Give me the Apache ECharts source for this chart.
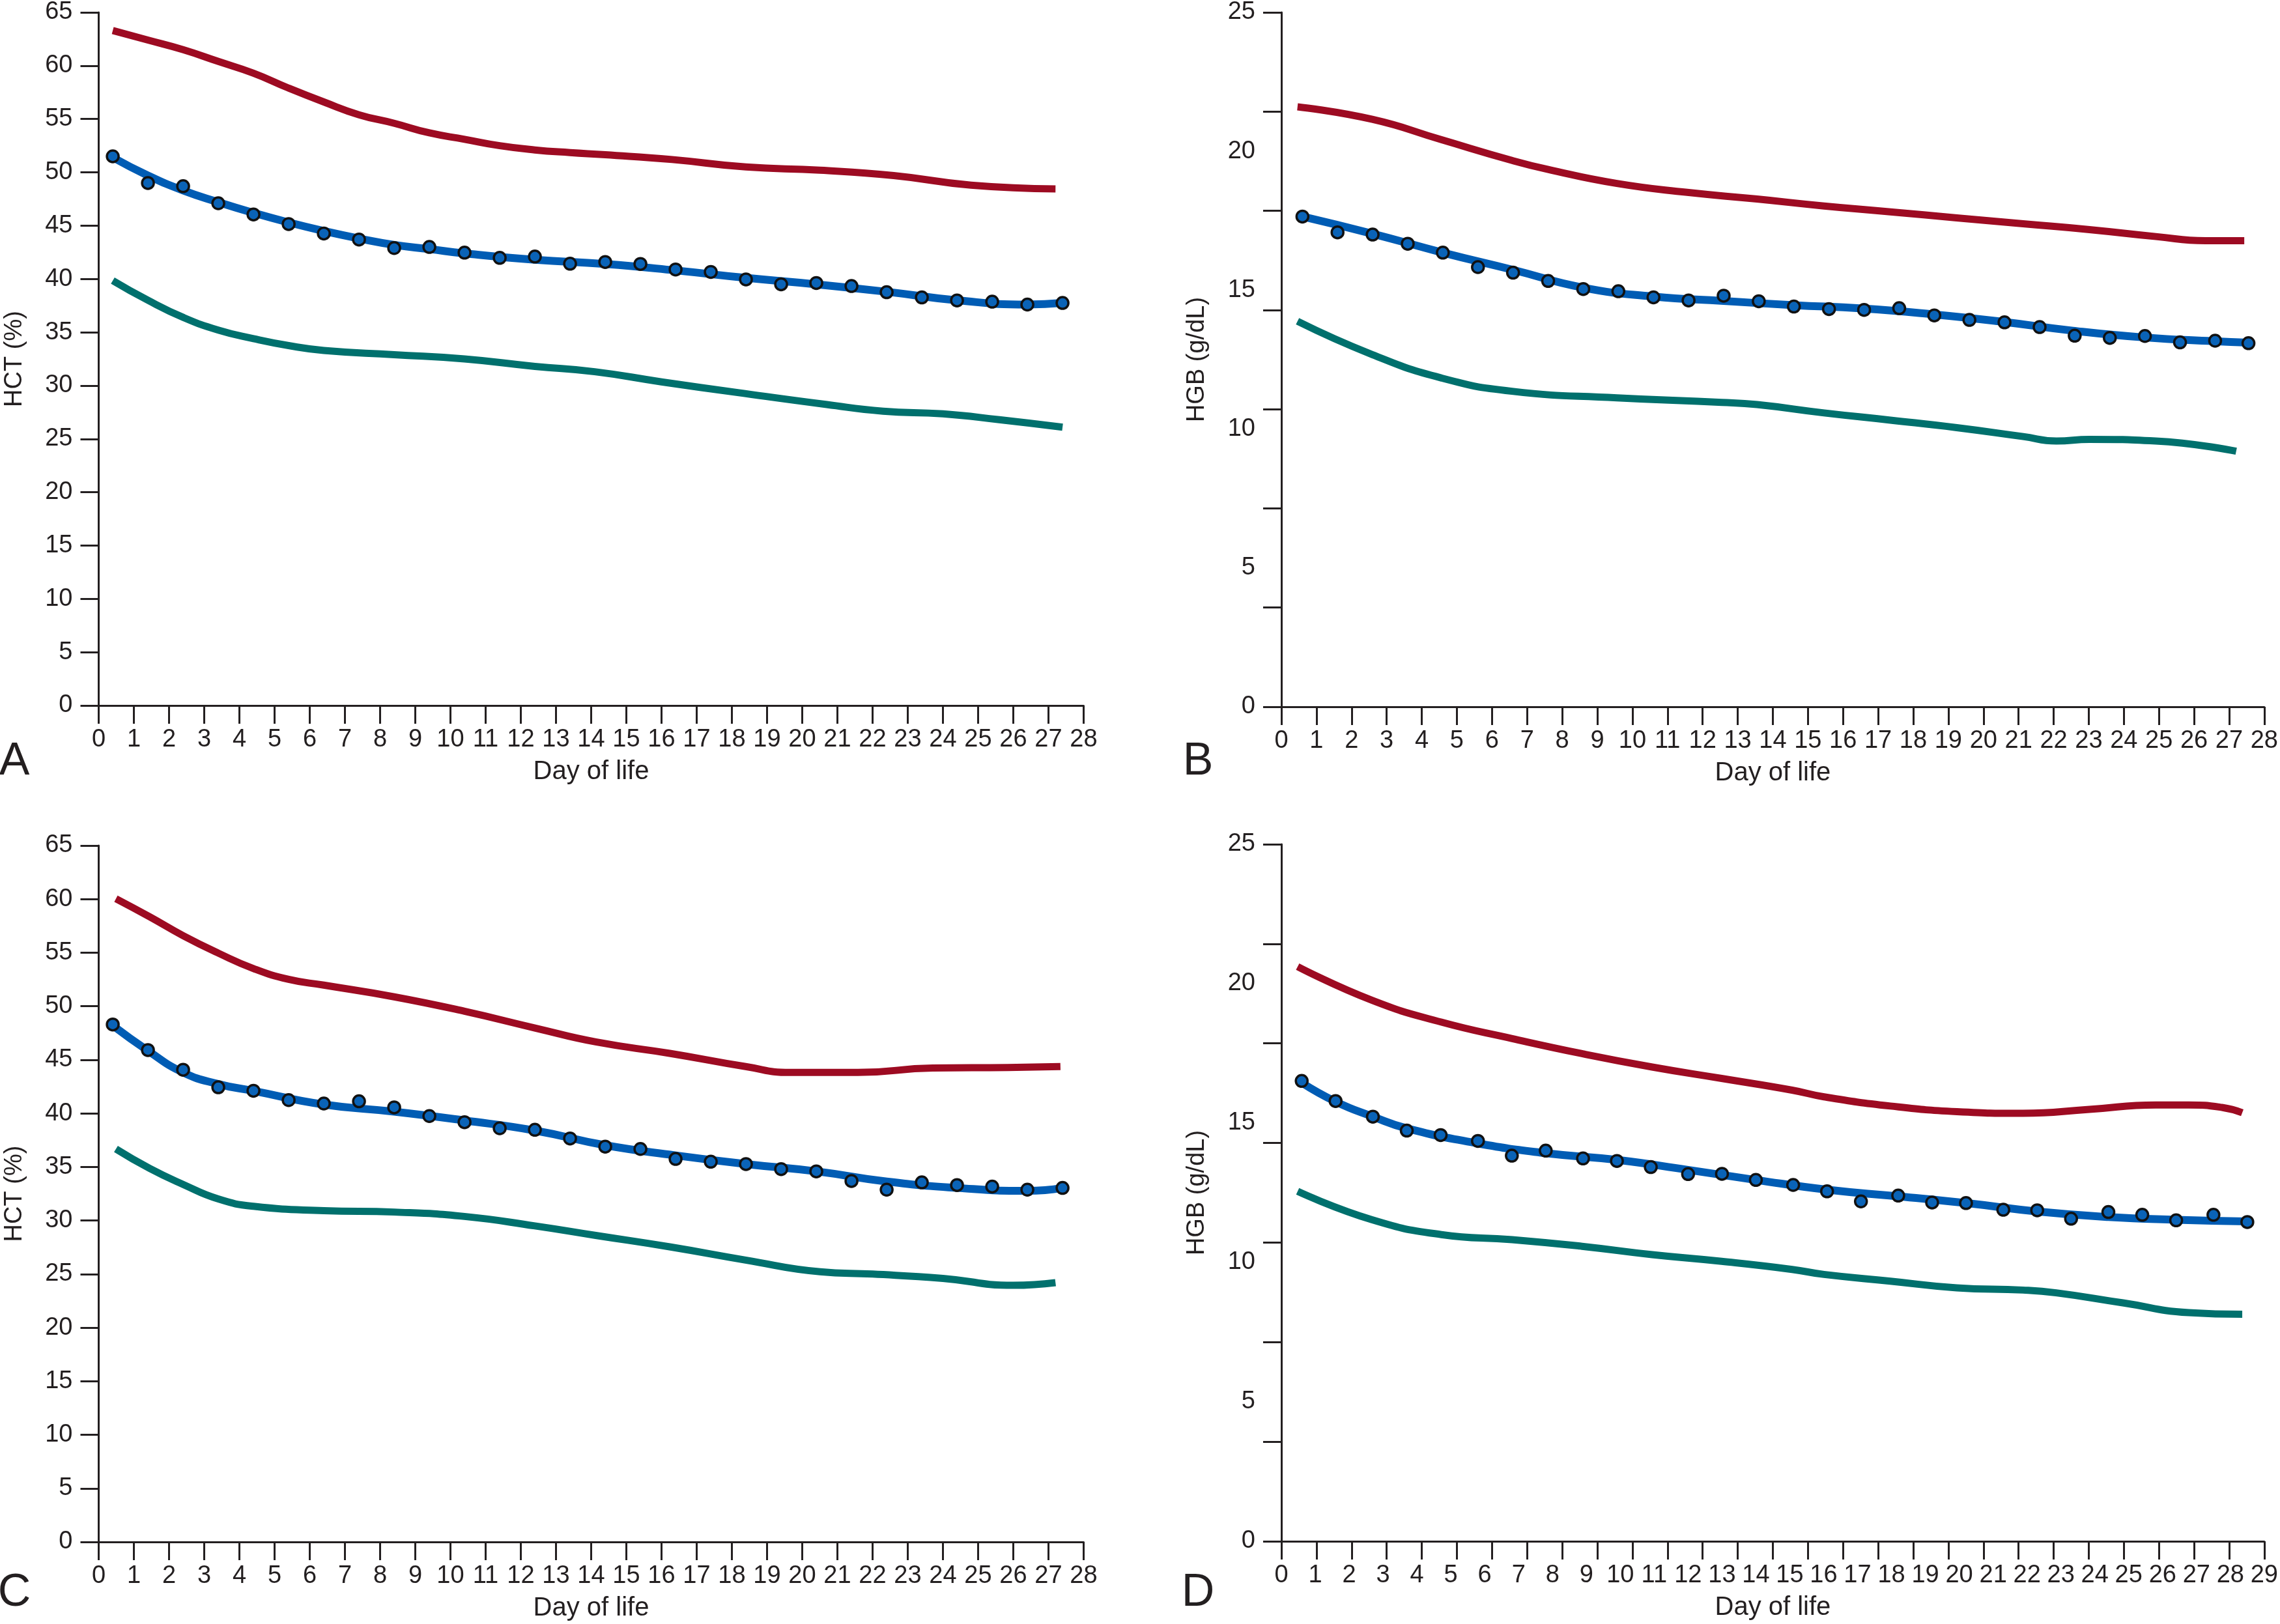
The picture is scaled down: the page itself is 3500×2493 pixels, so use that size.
<!DOCTYPE html>
<html><head><meta charset="utf-8">
<script src="https://cdn.jsdelivr.net/npm/echarts@6/dist/echarts.min.js"></script>
<style>html,body{margin:0;padding:0;background:#fff}#c{width:3500px;height:2493px}</style>
</head><body><div id="c"></div>
<script>
// ---------- text ----------
const panelLetters = ['A', 'B', 'C', 'D'];
const yTitles = ['HCT (%)', 'HGB (g/dL)', 'HCT (%)', 'HGB (g/dL)'];
const xTitle = 'Day of life';

// ---------- Panel A (HCT) ----------
const aRedX  = [0.4, 1.4, 2.4, 3.4, 4.4, 5.4, 6.4, 7.4, 8.4, 9.4, 10.4, 11.4, 12.4, 13.4, 14.4, 16.3, 18.4, 20.5, 22.6, 24.8, 27.2];
const aRedY  = [63.3, 62.4, 61.5, 60.4, 59.3, 57.9, 56.6, 55.4, 54.6, 53.7, 53.1, 52.5, 52.1, 51.85, 51.65, 51.2, 50.5, 50.2, 49.7, 48.8, 48.45];
const aFitX  = [0.4, 1.4, 2.4, 3.4, 4.4, 5.4, 6.4, 7.4, 8.4, 9.4, 10.4, 12.4, 14.4, 16.4, 18.4, 20.4, 22.4, 24.4, 26.4, 27.4];
const aFitY  = [51.4, 49.7, 48.3, 47.2, 46.2, 45.3, 44.5, 43.8, 43.2, 42.8, 42.4, 41.8, 41.4, 40.8, 40.1, 39.5, 38.8, 38.0, 37.6, 37.75];
const aLowX  = [0.4, 1.4, 2.4, 3.4, 4.4, 5.4, 6.4, 8.4, 10.4, 12.4, 14.1, 16.0, 18.2, 20.7, 22.3, 24.0, 25.6, 27.4];
const aLowY  = [39.85, 38.0, 36.4, 35.2, 34.4, 33.75, 33.3, 32.9, 32.5, 31.8, 31.3, 30.35, 29.33, 28.22, 27.6, 27.35, 26.8, 26.1];
const aDotX  = [0.4, 1.4, 2.4, 3.4, 4.4, 5.4, 6.4, 7.4, 8.4, 9.4, 10.4, 11.4, 12.4, 13.4, 14.4, 15.4, 16.4, 17.4, 18.4, 19.4, 20.4, 21.4, 22.4, 23.4, 24.4, 25.4, 26.4, 27.4];
const aDotY  = [51.5, 49.0, 48.7, 47.1, 46.05, 45.15, 44.26, 43.7, 42.9, 43.0, 42.47, 41.98, 42.1, 41.43, 41.59, 41.41, 40.89, 40.66, 39.96, 39.5, 39.62, 39.34, 38.76, 38.27, 37.99, 37.87, 37.6, 37.75];

// ---------- Panel B (HGB) ----------
const bRedX  = [0.46, 2.59, 4.55, 6.57, 7.58, 9.56, 11.56, 13.55, 15.46, 17.35, 19.24, 21.13, 23.02, 24.91, 26.33, 27.43];
const bRedY  = [21.6, 21.15, 20.42, 19.67, 19.35, 18.84, 18.52, 18.28, 18.03, 17.82, 17.6, 17.39, 17.18, 16.93, 16.78, 16.78];
const bFitX  = [0.6, 2.6, 4.6, 6.6, 8.6, 10.6, 12.6, 14.6, 16.55, 18.55, 20.55, 22.55, 24.55, 26.55, 27.55];
const bFitY  = [17.65, 17.03, 16.35, 15.73, 15.09, 14.77, 14.61, 14.46, 14.34, 14.13, 13.86, 13.54, 13.3, 13.16, 13.11];
const bLowX  = [0.46, 2.59, 4.55, 6.57, 9.56, 12.55, 13.55, 15.46, 17.35, 19.24, 21.13, 22.08, 23.02, 24.91, 27.2];
const bLowY  = [13.88, 12.68, 11.84, 11.36, 11.12, 10.96, 10.88, 10.58, 10.32, 10.05, 9.73, 9.57, 9.63, 9.57, 9.2];
const bDotX  = [0.6, 1.6, 2.6, 3.6, 4.6, 5.6, 6.6, 7.6, 8.6, 9.6, 10.6, 11.6, 12.6, 13.6, 14.6, 15.6, 16.6, 17.6, 18.6, 19.6, 20.6, 21.6, 22.6, 23.6, 24.6, 25.6, 26.6, 27.55];
const bDotY  = [17.65, 17.08, 17.0, 16.67, 16.35, 15.83, 15.63, 15.33, 15.04, 14.96, 14.74, 14.63, 14.8, 14.6, 14.41, 14.32, 14.29, 14.35, 14.09, 13.93, 13.84, 13.67, 13.36, 13.28, 13.35, 13.12, 13.18, 13.09];

// ---------- Panel C (HCT) ----------
const cRedX  = [0.49, 1.45, 2.4, 3.4, 4.4, 5.4, 6.4, 8.4, 10.4, 12.4, 14.13, 16.26, 18.39, 19.66, 21.58, 23.71, 25.84, 27.34];
const cRedY  = [60.04, 58.35, 56.59, 54.96, 53.52, 52.51, 51.97, 50.88, 49.53, 47.97, 46.67, 45.59, 44.37, 43.82, 43.82, 44.23, 44.28, 44.37];
const cFitX  = [0.4, 1.4, 2.4, 3.4, 4.4, 6.4, 8.4, 10.4, 12.4, 14.4, 16.4, 18.4, 20.4, 22.4, 24.4, 26.4, 27.4];
const cFitY  = [48.2, 45.85, 43.82, 42.74, 42.1, 40.83, 40.16, 39.34, 38.4, 37.03, 36.08, 35.27, 34.59, 33.64, 33.04, 32.77, 33.04];
const cLowX  = [0.49, 1.45, 2.4, 3.4, 4.4, 6.4, 8.4, 10.4, 12.4, 14.13, 16.26, 18.39, 20.51, 22.0, 24.0, 26.0, 27.2];
const cLowY  = [36.68, 34.86, 33.37, 32.01, 31.33, 30.92, 30.79, 30.38, 29.5, 28.61, 27.53, 26.31, 25.22, 25.0, 24.6, 23.95, 24.2];
const cDotX  = [0.4, 1.4, 2.4, 3.4, 4.4, 5.4, 6.4, 7.4, 8.4, 9.4, 10.4, 11.4, 12.4, 13.4, 14.4, 15.4, 16.4, 17.4, 18.4, 19.4, 20.4, 21.4, 22.4, 23.4, 24.4, 25.4, 26.4, 27.4];
const cDotY  = [48.3, 45.91, 44.07, 42.44, 42.11, 41.24, 40.92, 41.13, 40.56, 39.75, 39.18, 38.61, 38.47, 37.66, 36.9, 36.68, 35.75, 35.49, 35.27, 34.8, 34.59, 33.69, 32.88, 33.56, 33.31, 33.17, 32.88, 33.04];

// ---------- Panel D (HGB) ----------
const dRedX  = [0.48, 2.68, 4.72, 6.81, 8.87, 10.94, 12.99, 15.07, 16.01, 17.97, 19.93, 21.88, 23.84, 25.8, 26.77, 27.75, 28.35];
const dRedY  = [20.61, 19.4, 18.62, 18.03, 17.49, 17.01, 16.6, 16.18, 15.94, 15.61, 15.41, 15.35, 15.49, 15.65, 15.65, 15.56, 15.37];
const dFitX  = [0.6, 1.6, 2.7, 3.7, 5.8, 7.8, 9.9, 12.0, 14.0, 16.1, 18.2, 20.2, 22.3, 24.4, 26.4, 28.5];
const dFitY  = [16.45, 15.77, 15.23, 14.81, 14.27, 13.92, 13.68, 13.32, 12.96, 12.61, 12.37, 12.13, 11.83, 11.63, 11.53, 11.47];
const dLowX  = [0.48, 2.68, 4.72, 6.81, 8.87, 10.94, 12.99, 15.07, 16.01, 17.97, 19.93, 21.88, 22.86, 24.83, 26.77, 28.35];
const dLowY  = [12.55, 11.53, 11.0, 10.82, 10.58, 10.28, 10.04, 9.75, 9.57, 9.33, 9.09, 9.01, 8.91, 8.55, 8.2, 8.14];
const dDotX  = [0.6, 1.6, 2.7, 3.7, 4.7, 5.8, 6.8, 7.8, 8.9, 9.9, 10.9, 12.0, 13.0, 14.0, 15.1, 16.1, 17.1, 18.2, 19.2, 20.2, 21.3, 22.3, 23.3, 24.4, 25.4, 26.4, 27.5, 28.5];
const dDotY  = [16.51, 15.79, 15.23, 14.73, 14.57, 14.36, 13.83, 14.01, 13.73, 13.64, 13.42, 13.17, 13.18, 12.96, 12.78, 12.55, 12.19, 12.4, 12.15, 12.13, 11.89, 11.87, 11.57, 11.81, 11.71, 11.51, 11.71, 11.45];

// ---------- axis scales ----------
const hctMax = 65, hctStep = 5;
const hgbMax = 25, hgbLabelStep = 5, hgbTickCount = 7;   // HGB ticks: 7 equal divisions
const dayMaxABC = 28, dayMaxD = 29, dTickCount = 28;      // panel D: 30 labels, 28 tick divisions

// ---------- build ----------
const INK = '#231f20';
const RED = '#9d0b22', BLUE = '#005cb4', TEAL = '#00706d';
const FONT = '"Liberation Sans", Arial, Helvetica, sans-serif';
const zip = (xs, ys) => xs.map((x, i) => [x, ys[i]]);
const evenTicks = (max, n) => Array.from({length: n + 1}, (_, i) => max * i / n);

const panels = [
  {red: zip(aRedX, aRedY), fit: zip(aFitX, aFitY), low: zip(aLowX, aLowY), dots: zip(aDotX, aDotY)},
  {red: zip(bRedX, bRedY), fit: zip(bFitX, bFitY), low: zip(bLowX, bLowY), dots: zip(bDotX, bDotY)},
  {red: zip(cRedX, cRedY), fit: zip(cFitX, cFitY), low: zip(cLowX, cLowY), dots: zip(cDotX, cDotY)},
  {red: zip(dRedX, dRedY), fit: zip(dFitX, dFitY), low: zip(dLowX, dLowY), dots: zip(dDotX, dDotY)}
];

const grids = [
  {left: 151.5, top: 13,   width: 1512, height: 1070},
  {left: 1967,  top: 14,   width: 1512, height: 1071},
  {left: 151.5, top: 1298, width: 1512, height: 1069},
  {left: 1967,  top: 1296, width: 1512, height: 1070}
];

const axisLine = {show: true, onZero: false, lineStyle: {color: INK, width: 3}};
const tickStyle = {color: INK, width: 3};

const xAxes = grids.map((g, i) => {
  const isD = i === 3;
  const ax = {
    type: 'value', gridIndex: i, min: 0, max: isD ? dayMaxD : dayMaxABC, interval: 1,
    axisLine: axisLine,
    axisTick: {show: true, inside: false, length: 28, lineStyle: tickStyle},
    axisLabel: {show: true, fontSize: 38, fontFamily: FONT, color: INK, margin: 34, hideOverlap: false},
    splitLine: {show: false},
    name: xTitle, nameLocation: 'middle', nameGap: 82,
    nameTextStyle: {fontSize: 40, fontFamily: FONT, color: INK}
  };
  if (isD) ax.axisTick.customValues = evenTicks(dayMaxD, dTickCount);
  return ax;
});

const yAxes = grids.map((g, i) => {
  const isHgb = (i === 1 || i === 3);
  const ax = {
    type: 'value', gridIndex: i, min: 0, max: isHgb ? hgbMax : hctMax, interval: isHgb ? hgbLabelStep : hctStep,
    axisLine: axisLine,
    axisTick: {show: true, inside: false, length: 28, lineStyle: tickStyle},
    axisLabel: {show: true, fontSize: 38, fontFamily: FONT, color: INK, margin: 40, padding: [20, 0, 0, 0]},
    splitLine: {show: false},
    name: yTitles[i], nameLocation: 'middle', nameGap: 110, nameRotate: 90,
    nameTextStyle: {fontSize: 38, fontFamily: FONT, color: INK}
  };
  if (isHgb) ax.axisTick.customValues = evenTicks(hgbMax, hgbTickCount);
  return ax;
});

const series = [];
panels.forEach((p, i) => {
  const line = (data, color, w, name) => ({
    type: 'line', name, xAxisIndex: i, yAxisIndex: i, data, smooth: 0.5,
    showSymbol: false, symbol: 'none', lineStyle: {color, width: w, cap: 'butt', join: 'round'}, z: 2, animation: false
  });
  series.push(line(p.red, RED, 11, 'upper'));
  series.push(line(p.low, TEAL, 11, 'lower'));
  series.push(line(p.fit, BLUE, 12, 'mean'));
  series.push({
    type: 'scatter', name: 'observed', xAxisIndex: i, yAxisIndex: i, data: p.dots,
    symbol: 'circle', symbolSize: 18,
    itemStyle: {color: '#0a63b7', borderColor: '#111', borderWidth: 3.5, opacity: 1},
    z: 5, animation: false
  });
});

const letterPos = [[22, 1170], [1839, 1170], [22, 2446], [1839, 2446]];
const graphic = panelLetters.map((t, i) => ({
  type: 'text', x: letterPos[i][0], y: letterPos[i][1],
  style: {text: t, fontSize: 70, fontFamily: FONT, fill: INK, align: 'center', verticalAlign: 'middle'}
}));

const chart = echarts.init(document.getElementById('c'), null, {renderer: 'canvas'});
chart.setOption({
  animation: false,
  backgroundColor: '#ffffff',
  grid: grids,
  xAxis: xAxes,
  yAxis: yAxes,
  series: series,
  graphic: graphic
});
</script></body></html>
